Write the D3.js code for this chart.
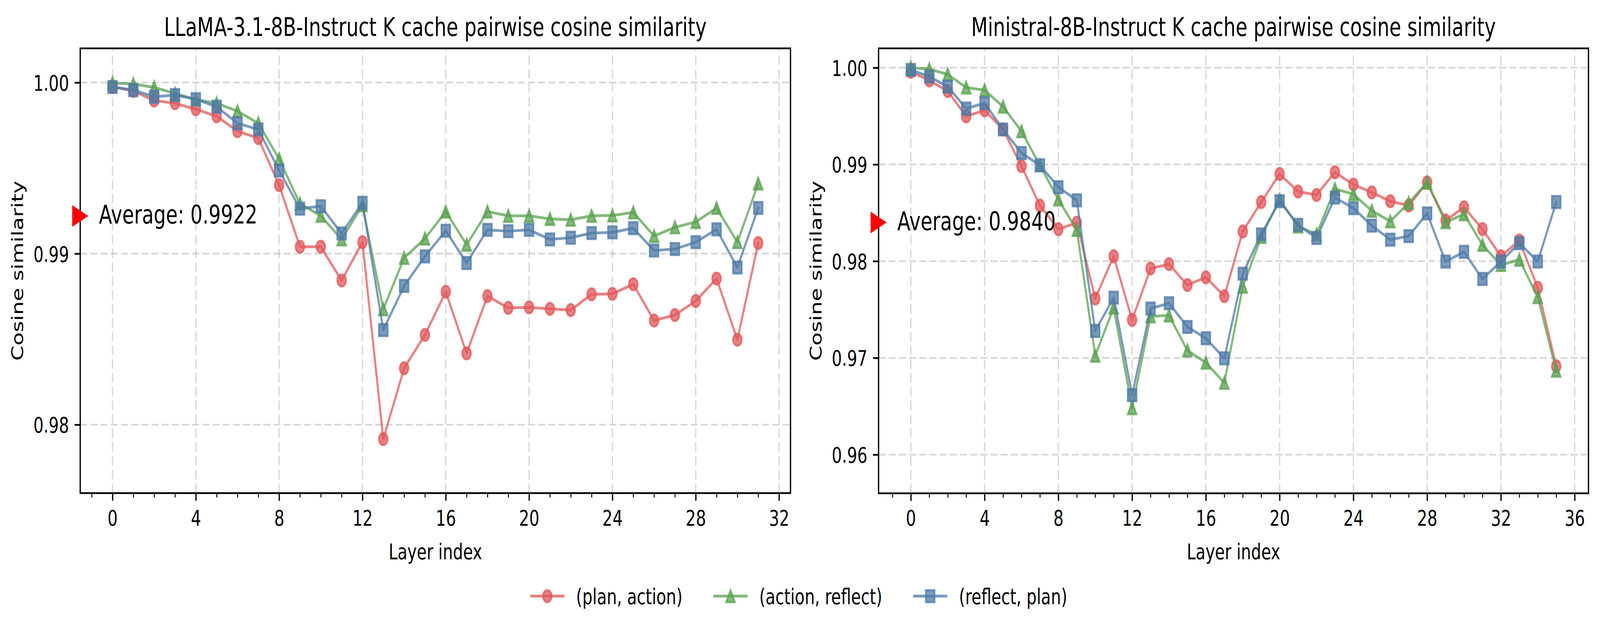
<!DOCTYPE html>
<html>
<head>
<meta charset="utf-8">
<script src="https://cdn.jsdelivr.net/npm/d3@7"></script>
<style>
  html, body { margin: 0; padding: 0; background: #ffffff; overflow: hidden; width: 100%; height: 100%; }
  svg { display: block; width: 100vw; height: 100vh; }
  text { font-family: "DejaVu Sans", sans-serif; fill: #000; }
</style>
</head>
<body>
<svg id="chart" viewBox="0 0 5557 1620" preserveAspectRatio="none"></svg>
<script>
// ---------------- data ----------------
const seriesNames = ["(plan, action)", "(action, reflect)", "(reflect, plan)"];
const seriesColors = ["#e15759", "#59a14f", "#4e79a7"];
const seriesShapes = ["circle", "triangle", "square"];

const titles = [
  "LLaMA-3.1-8B-Instruct K cache pairwise cosine similarity",
  "Ministral-8B-Instruct K cache pairwise cosine similarity"
];
const averageValues = [0.9922, 0.9840];
const averageLabels = ["Average: 0.9922", "Average: 0.9840"];

const llamaPlanAction = [0.99976,0.99951,0.99895,0.99879,0.99844,0.99803,0.99716,0.99675,0.9940,0.9904,0.9904,0.98843,0.99067,0.97916,0.98330,0.98525,0.98777,0.98417,0.98752,0.98683,0.98686,0.98677,0.98670,0.98762,0.98765,0.98821,0.98609,0.98641,0.98723,0.98854,0.98497,0.99062];
const llamaActionReflect = [0.99998,0.99992,0.99972,0.99936,0.99900,0.99879,0.99833,0.99762,0.99553,0.99292,0.99221,0.99083,0.99283,0.98675,0.98975,0.99088,0.99246,0.99052,0.99246,0.99221,0.99221,0.99203,0.99198,0.99221,0.99223,0.99241,0.99103,0.99154,0.99185,0.99267,0.99067,0.99410];
const llamaReflectPlan = [0.99974,0.99956,0.99917,0.99927,0.99903,0.99859,0.99762,0.99726,0.99486,0.99263,0.99277,0.99118,0.99297,0.98553,0.98811,0.98984,0.99134,0.98945,0.99139,0.99131,0.99139,0.99083,0.99093,0.99120,0.99124,0.99149,0.99018,0.99027,0.99067,0.99142,0.98919,0.99267];

const ministralPlanAction = [0.99958,0.99868,0.99759,0.99497,0.99560,0.99362,0.98982,0.98575,0.98331,0.98398,0.97614,0.98051,0.97393,0.97924,0.97969,0.97753,0.97833,0.97638,0.98307,0.98611,0.98901,0.98720,0.98684,0.98919,0.98792,0.98710,0.98620,0.98575,0.98814,0.98421,0.98557,0.98331,0.98051,0.98213,0.97725,0.96914];
const ministralActionReflect = [1.00000,0.99985,0.99931,0.99795,0.99768,0.99597,0.99343,0.98991,0.98638,0.98322,0.97022,0.97520,0.96480,0.97429,0.97439,0.97077,0.96950,0.96742,0.97736,0.98250,0.98638,0.98358,0.98277,0.98746,0.98693,0.98521,0.98412,0.98602,0.98810,0.98403,0.98485,0.98168,0.97960,0.98015,0.97628,0.96868];
const ministralReflectPlan = [0.99977,0.99909,0.99804,0.99578,0.99633,0.99362,0.99118,0.98991,0.98765,0.98629,0.97279,0.97623,0.96615,0.97510,0.97565,0.97320,0.97203,0.96995,0.97870,0.98277,0.98620,0.98376,0.98240,0.98657,0.98548,0.98367,0.98222,0.98259,0.98494,0.97996,0.98096,0.97816,0.97996,0.98186,0.97996,0.98611];

const xTicksLeft = [0, 4, 8, 12, 16, 20, 24, 28, 32];
const xTicksRight = [0, 4, 8, 12, 16, 20, 24, 28, 32, 36];
const yTicksLeft = [0.98, 0.99, 1.00];
const yTicksRight = [0.96, 0.97, 0.98, 0.99, 1.00];

// ---------------- layout ----------------
const PT = 400 / 72; // px per point
const FS = 10 * PT;   // 10pt
const panels = [
  { box: [278.6, 2745.5, 123.75, 1262], xDom: [-1.55, 32.55], yDom: [0.976, 1.002],
    series: [llamaPlanAction, llamaActionReflect, llamaReflectPlan],
    xTicks: xTicksLeft, yTicks: yTicksLeft },
  { box: [3051.4, 5517, 123.75, 1262.5], xDom: [-1.75, 36.75], yDom: [0.956, 1.002],
    series: [ministralPlanAction, ministralActionReflect, ministralReflectPlan],
    xTicks: xTicksRight, yTicks: yTicksRight }
];

const svg = d3.select("#chart");
svg.append("rect").attr("width", 5557).attr("height", 1620).attr("fill", "#fff");

const ALPHA = 0.75;
const LW = 1.3 * PT;
const MS = 5.5 * PT;
const MEW = 1.0 * PT;

function markerPath(shape, s) {
  const h = s / 2;
  if (shape === "circle") {
    const p = d3.path(); p.moveTo(h, 0); p.arc(0, 0, h, 0, 2 * Math.PI); p.closePath(); return p.toString();
  }
  if (shape === "square") return `M${-h},${-h}L${h},${-h}L${h},${h}L${-h},${h}Z`;
  if (shape === "triangle") return `M0,${-h}L${-h},${h}L${h},${h}Z`;
  return "";
}

panels.forEach((P, pi) => {
  const [x0, x1, y0, y1] = P.box;
  const x = d3.scaleLinear().domain(P.xDom).range([x0, x1]);
  const y = d3.scaleLinear().domain(P.yDom).range([y1, y0]);
  const g = svg.append("g");
  const clipId = "clip" + pi;
  svg.append("clipPath").attr("id", clipId).append("rect")
    .attr("x", x0).attr("y", y0).attr("width", x1 - x0).attr("height", y1 - y0);

  // grid
  const grid = g.append("g").attr("stroke", "#b0b0b0").attr("stroke-opacity", 0.5)
    .attr("stroke-width", 0.8 * PT).attr("stroke-dasharray", `${3.7 * 1.2 * PT},${1.6 * 1.2 * PT}`);
  grid.selectAll("line.v").data(P.xTicks.filter(t => x(t) >= x0 && x(t) <= x1)).join("line").attr("class", "v")
    .attr("x1", d => x(d)).attr("x2", d => x(d)).attr("y1", y1).attr("y2", y0);
  grid.selectAll("line.h").data(P.yTicks).join("line").attr("class", "h")
    .attr("x1", x0).attr("x2", x1).attr("y1", d => y(d)).attr("y2", d => y(d));

  // series
  const plot = g.append("g").attr("clip-path", `url(#${clipId})`);
  P.series.forEach((vals, si) => {
    const col = seriesColors[si];
    const sg = plot.append("g");
    const line = d3.line().x((d, i) => x(i)).y(d => y(d));
    sg.append("path").attr("d", line(vals)).attr("fill", "none")
      .attr("stroke", col).attr("stroke-opacity", ALPHA).attr("stroke-width", LW)
      .attr("stroke-linejoin", "round").attr("stroke-linecap", "square");
    sg.selectAll("path.m").data(vals).join("path").attr("class", "m")
      .attr("d", markerPath(seriesShapes[si], MS))
      .attr("transform", (d, i) => `translate(${x(i)},${y(d)})`)
      .attr("fill", col).attr("fill-opacity", ALPHA)
      .attr("stroke", col).attr("stroke-opacity", ALPHA).attr("stroke-width", MEW);
  });

  // axes
  const xAxis = d3.axisBottom(x).tickValues(P.xTicks).tickSize(3.5 * PT).tickPadding(24).tickFormat(d3.format("d"));
  const gx = g.append("g").attr("transform", `translate(0,${y1})`).call(xAxis);
  gx.select(".domain").remove();
  gx.selectAll(".tick line").attr("stroke", "#000").attr("stroke-width", 0.8 * PT);
  gx.selectAll(".tick text").attr("font-size", FS).attr("font-family", "DejaVu Sans").attr("fill", "#000");

  const minorVals = d3.range(Math.ceil(P.xDom[0]), Math.floor(P.xDom[1]) + 1).filter(v => v % 4 !== 0);
  const gxm = g.append("g").attr("transform", `translate(0,${y1})`)
    .call(d3.axisBottom(x).tickValues(minorVals).tickSize(2 * PT).tickFormat(""));
  gxm.select(".domain").remove();
  gxm.selectAll(".tick line").attr("stroke", "#000").attr("stroke-width", 0.6 * PT);

  const yAxis = d3.axisLeft(y).tickValues(P.yTicks).tickSize(3.5 * PT).tickPadding(3.5 * PT).tickFormat(d3.format(".2f"));
  const gy = g.append("g").attr("transform", `translate(${x0},0)`).call(yAxis);
  gy.select(".domain").remove();
  gy.selectAll(".tick line").attr("stroke", "#000").attr("stroke-width", 0.8 * PT);
  gy.selectAll(".tick text").attr("font-size", FS).attr("font-family", "DejaVu Sans").attr("fill", "#000").attr("dy", "0.36em");

  // spines
  g.append("rect").attr("x", x0).attr("y", y0).attr("width", x1 - x0).attr("height", y1 - y0)
    .attr("fill", "none").attr("stroke", "#000").attr("stroke-width", 0.8 * PT);

  // title
  g.append("text").attr("x", (x0 + x1) / 2).attr("y", 92).attr("text-anchor", "middle")
    .attr("font-size", 12 * PT).text(titles[pi]);
  // x label
  g.append("text").attr("x", (x0 + x1) / 2).attr("y", 1431).attr("text-anchor", "middle")
    .attr("font-size", FS).text("Layer index");
  // y label
  const tickLabelLeft = d3.min(gy.selectAll(".tick text").nodes(), n => n.getBBox().x) + x0;
  const ylx = tickLabelLeft - 4 * PT - 0.236 * FS;
  g.append("text").attr("transform", `translate(${ylx},${(y0 + y1) / 2}) rotate(-90)`)
    .attr("text-anchor", "middle").attr("font-size", FS).text("Cosine similarity");

  // average marker + label
  const ay = y(averageValues[pi]);
  const ms = 9 * PT + MEW;
  g.append("path").attr("d", `M${ms / 2},0L${-ms / 2},${-ms / 2}L${-ms / 2},${ms / 2}Z`)
    .attr("transform", `translate(${x0},${ay})`).attr("fill", "#ff0000");
  g.append("text").attr("x", x0 + 65).attr("y", ay + 19.5).attr("font-size", 12 * PT).text(averageLabels[pi]);
});

// ---------------- legend ----------------
const legY = 1525.7;
const handleLen = 2.0 * FS, handlePad = 0.8 * FS, colSpace = 2.0 * FS;
const leg = svg.append("g");
const items = seriesNames.map((name, i) => {
  const t = leg.append("text").attr("font-size", FS).attr("y", legY + 20).text(name);
  return { name, i, t, w: t.node().getComputedTextLength() };
});
const total = d3.sum(items, d => handleLen + handlePad + d.w) + colSpace * (items.length - 1);
let cx = 2776 - total / 2;
items.forEach(d => {
  const col = seriesColors[d.i];
  leg.append("line").attr("x1", cx).attr("x2", cx + handleLen).attr("y1", legY).attr("y2", legY)
    .attr("stroke", col).attr("stroke-opacity", ALPHA).attr("stroke-width", LW).attr("stroke-linecap", "square");
  leg.append("path").attr("d", markerPath(seriesShapes[d.i], MS))
    .attr("transform", `translate(${cx + handleLen / 2},${legY})`)
    .attr("fill", col).attr("fill-opacity", ALPHA)
    .attr("stroke", col).attr("stroke-opacity", ALPHA).attr("stroke-width", MEW);
  d.t.attr("x", cx + handleLen + handlePad);
  cx += handleLen + handlePad + d.w + colSpace;
});
</script>
</body>
</html>
